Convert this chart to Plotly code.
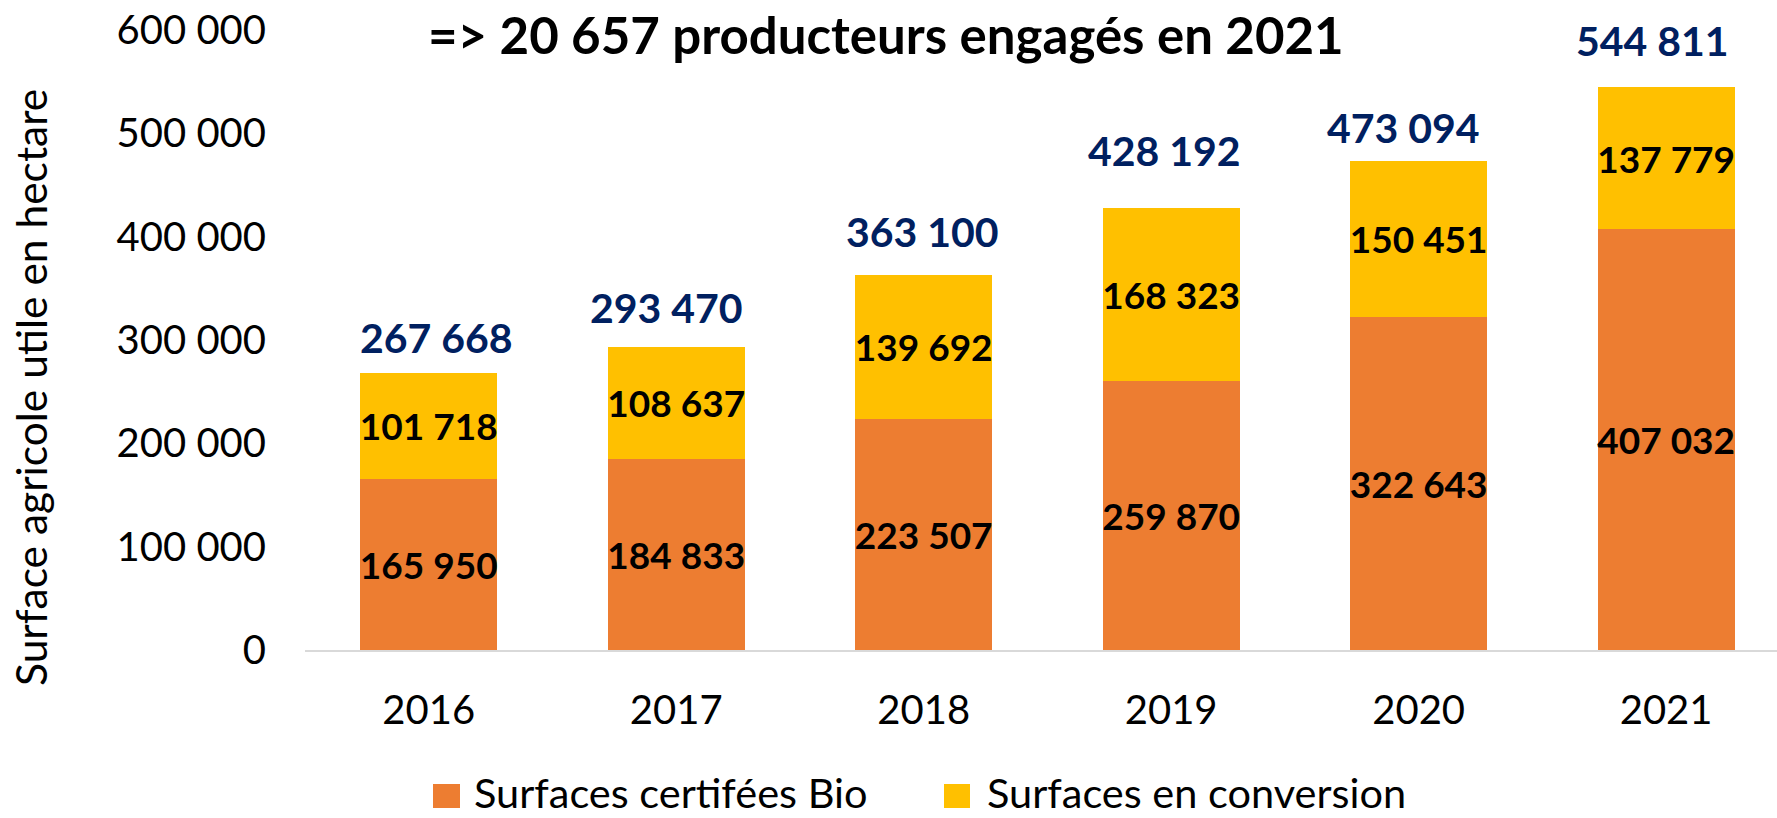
import plotly.graph_objects as go

# ---- data ----
years = ["2016", "2017", "2018", "2019", "2020", "2021"]
certified_bio = [165950, 184833, 223507, 259870, 322643, 407032]
in_conversion = [101718, 108637, 139692, 168323, 150451, 137779]
totals = [267668, 293470, 363100, 428192, 473094, 544811]
y_ticks = [0, 100000, 200000, 300000, 400000, 500000, 600000]
series_names = ["Surfaces certifées Bio", "Surfaces en conversion"]
title_text = "=> 20 657 producteurs engagés en 2021"
y_title = "Surface agricole utile en hectare"

# ---- styling / layout constants ----
W, H = 1777, 818
L, R, T, B = 305, 0, 30, 168
PW, PH = W - L - R, H - T - B
ORANGE, YELLOW, NAVY = "#ED7D31", "#FFC000", "#002060"
FONT = "Lato, 'Open Sans', sans-serif"
# pixel offsets of the total labels above each bar (they were hand-placed)
total_lift_px = [36, 39, 43, 57, 34, 47]
total_xshift_px = [8, -10, -1, -7, -15, -14]


def px_x(px):
    return (px - L) / PW


def px_y(py):
    return (H - B - py) / PH


fig = go.Figure()
for name, vals, col in [(series_names[0], certified_bio, ORANGE),
                        (series_names[1], in_conversion, YELLOW)]:
    fig.add_trace(go.Bar(
        x=years, y=vals, name=name, marker=dict(color=col, line=dict(width=0)),
        texttemplate="%{y:,}", textposition="inside", insidetextanchor="middle",
        textangle=0, constraintext="none",
        textfont=dict(family=FONT, size=37, color="black", weight="bold"),
        showlegend=False, cliponaxis=False,
    ))

annotations = []
for i, tot in enumerate(totals):
    annotations.append(dict(
        x=i, y=tot, xref="x", yref="y", text=f"{tot:,}".replace(",", " "),
        showarrow=False, yanchor="middle", xanchor="center",
        yshift=total_lift_px[i], xshift=total_xshift_px[i],
        font=dict(family=FONT, size=41, color=NAVY, weight="bold"),
    ))

# title
annotations.append(dict(
    x=px_x(886), y=px_y(35), xref="paper", yref="paper", text=title_text,
    showarrow=False, xanchor="center", yanchor="middle",
    font=dict(family=FONT, size=51, color="black", weight="bold"),
))
# y axis title
annotations.append(dict(
    x=px_x(30), y=px_y(388), xref="paper", yref="paper", text=y_title,
    showarrow=False, xanchor="center", yanchor="middle", textangle=-90,
    font=dict(family=FONT, size=42.5, color="black"),
))

# manual legend (large square swatches)
shapes = []
legend_items = [(433, 460, 472, ORANGE, series_names[0]),
                (944, 970, 985, YELLOW, series_names[1])]
for x0, x1, tx, col, name in legend_items:
    shapes.append(dict(type="rect", xref="paper", yref="paper",
                       x0=px_x(x0), x1=px_x(x1), y0=px_y(808), y1=px_y(784),
                       fillcolor=col, line=dict(width=0)))
    annotations.append(dict(
        x=px_x(tx), y=px_y(792), xref="paper", yref="paper", text=name,
        showarrow=False, xanchor="left", yanchor="middle",
        font=dict(family=FONT, size=41.5, color="black"),
    ))

fig.update_layout(
    width=W, height=H,
    margin=dict(l=L, r=R, t=T, b=B, pad=0),
    paper_bgcolor="white", plot_bgcolor="white",
    barmode="stack", bargap=0.447,
    separators=", ",
    showlegend=False,
    annotations=annotations, shapes=shapes,
    xaxis=dict(
        type="category", categoryorder="array", categoryarray=years,
        range=[-0.5, 5.448], showline=True, linecolor="#D9D9D9", linewidth=2,
        ticks="", showgrid=False, zeroline=False,
        tickfont=dict(family=FONT, size=40, color="black"),
        ticklabelstandoff=24,
    ),
    yaxis=dict(
        range=[0, 600000], tickvals=y_ticks, tickformat=",",
        showgrid=False, zeroline=False, showline=False, ticks="",
        tickfont=dict(family=FONT, size=40, color="black"),
        ticklabelstandoff=38,
    ),
)

fig.write_html("out.html", config={"displayModeBar": False},
               post_script="document.body.style.margin='0';")
